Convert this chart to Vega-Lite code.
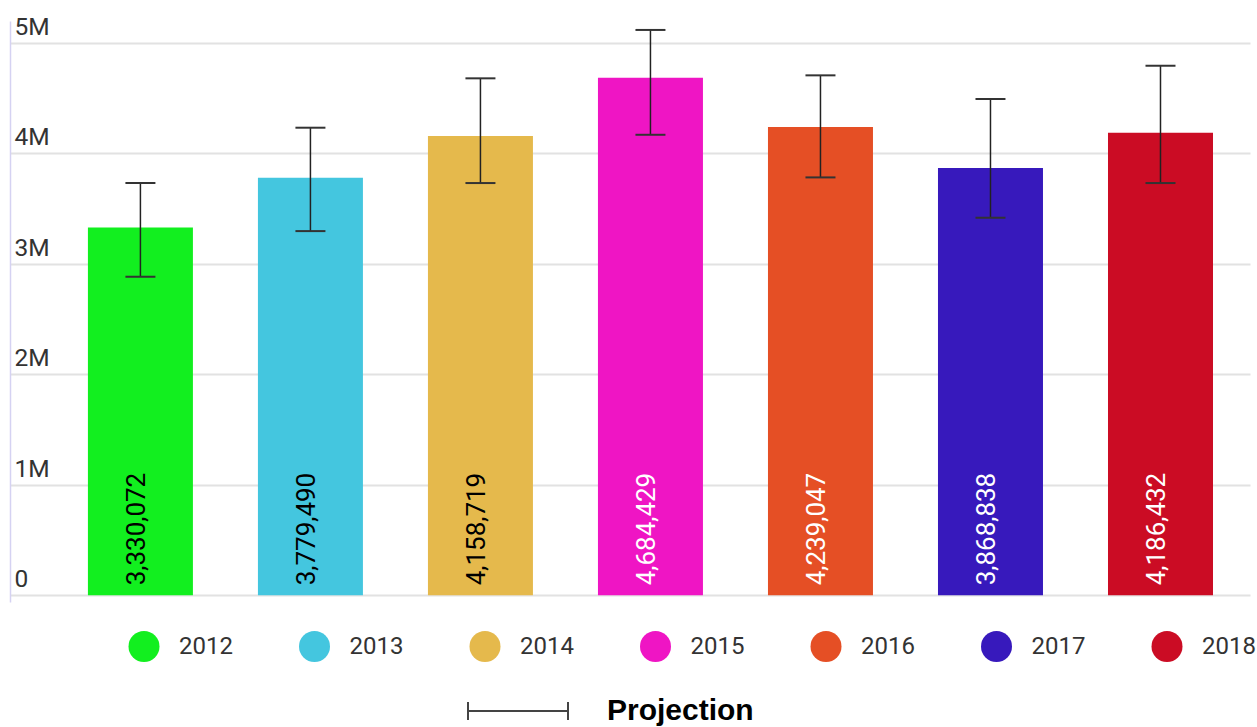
{
  "$schema": "https://vega.github.io/schema/vega-lite/v6.json",
  "width": 1240,
  "height": 581,
  "autosize": "none",
  "padding": {"left": 10, "top": 21, "right": 7, "bottom": 125},
  "background": "white",
  "config": {"view": {"stroke": null}},
  "data": {
    "values": [
      {"year": "2012", "value": 3330072, "lo": 2883000, "hi": 3732000},
      {"year": "2013", "value": 3779490, "lo": 3297000, "hi": 4233000},
      {"year": "2014", "value": 4158719, "lo": 3732000, "hi": 4680000},
      {"year": "2015", "value": 4684429, "lo": 4169000, "hi": 5118000},
      {"year": "2016", "value": 4239047, "lo": 3783000, "hi": 4707000},
      {"year": "2017", "value": 3868838, "lo": 3418000, "hi": 4493000},
      {"year": "2018", "value": 4186432, "lo": 3732000, "hi": 4794000}
    ]
  },
  "encoding": {
    "x": {
      "field": "year",
      "type": "nominal",
      "scale": {"paddingInner": 0.3824, "paddingOuter": 0.338, "align": 0.678},
      "axis": null
    }
  },
  "layer": [
    {
      "mark": {"type": "bar"},
      "encoding": {
        "y": {
          "field": "value",
          "type": "quantitative",
          "scale": {"domain": [-60700, 5199000], "nice": false, "zero": false},
          "axis": {
            "title": null,
            "values": [0, 1000000, 2000000, 3000000, 4000000, 5000000],
            "labelExpr": "datum.value == 0 ? '0' : format(datum.value / 1000000, 'd') + 'M'",
            "ticks": false,
            "tickSize": 0,
            "labelAlign": "left",
            "labelPadding": -4,
            "labelBaseline": "alphabetic",
            "labelOffset": -8.5,
            "labelOverlap": false,
            "labelBound": false,
            "labelFont": "Roboto",
            "labelFontSize": 24.5,
            "labelColor": "#333333",
            "domainColor": "#d5d2f2",
            "domainWidth": 1.5,
            "gridColor": "#e2e2e2",
            "gridWidth": 2
          }
        },
        "y2": {"datum": 0},
        "color": {
          "field": "year",
          "type": "nominal",
          "scale": {
            "domain": ["2012", "2013", "2014", "2015", "2016", "2017", "2018"],
            "range": ["#12ef1f", "#44c6df", "#e5b94c", "#ef15c4", "#e54f25", "#3719bc", "#cb0c24"]
          },
          "legend": {
            "title": null,
            "orient": "none",
            "legendX": 118.5,
            "legendY": 610,
            "direction": "horizontal",
            "columns": 7,
            "padding": 0,
            "symbolType": "circle",
            "symbolSize": 961,
            "symbolStrokeWidth": 0,
            "symbolOpacity": 1,
            "labelFont": "Roboto",
            "labelFontSize": 24,
            "labelColor": "#333333",
            "labelOffset": 19.5,
            "columnPadding": 65.5
          }
        }
      }
    },
    {
      "mark": {"type": "rule", "color": "#222222", "strokeWidth": 1.5},
      "encoding": {
        "y": {"field": "lo", "type": "quantitative"},
        "y2": {"field": "hi"},
        "strokeDash": {
          "datum": "Projection",
          "type": "nominal",
          "scale": {"range": [[1, 0]]},
          "legend": {
            "title": null,
            "orient": "none",
            "legendX": 457,
            "legendY": 639,
            "padding": 0,
            "symbolType": "M-1,0L1,0M-1,-0.18L-1,0.18M1,-0.18L1,0.18",
            "symbolSize": 10000,
            "symbolStrokeColor": "#444444",
            "symbolStrokeWidth": 2,
            "labelFont": "Liberation Sans",
            "labelFontWeight": "bold",
            "labelFontSize": 30,
            "labelColor": "#000000",
            "labelOffset": 38
          }
        }
      }
    },
    {
      "mark": {"type": "tick", "orient": "horizontal", "size": 30, "thickness": 2, "color": "#333333", "opacity": 1},
      "encoding": {"y": {"field": "lo", "type": "quantitative"}}
    },
    {
      "mark": {"type": "tick", "orient": "horizontal", "size": 30, "thickness": 2, "color": "#333333", "opacity": 1},
      "encoding": {"y": {"field": "hi", "type": "quantitative"}}
    },
    {
      "mark": {"type": "text", "angle": 270, "align": "left", "baseline": "alphabetic", "font": "Roboto", "fontSize": 26, "xOffset": 4.5, "yOffset": -10},
      "encoding": {
        "y": {"datum": 0, "type": "quantitative"},
        "text": {"field": "value", "type": "quantitative", "format": ","},
        "color": {
          "condition": {"test": "toNumber(datum.year) >= 2015", "value": "white"},
          "value": "black"
        }
      }
    }
  ]
}
